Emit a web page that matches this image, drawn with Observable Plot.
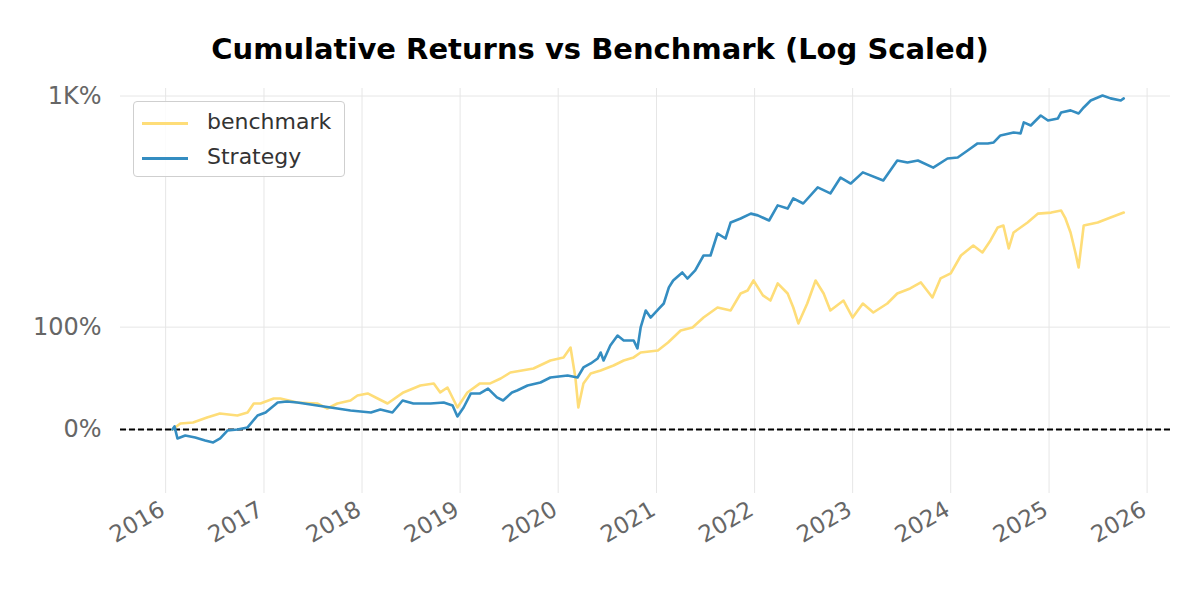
<!DOCTYPE html>
<html><head><meta charset="utf-8">
<script src="https://cdn.jsdelivr.net/npm/d3@7"></script>
<script src="https://cdn.jsdelivr.net/npm/@observablehq/plot@0.6"></script>
<style>
body{margin:0;background:#fff;font-family:"DejaVu Sans",sans-serif;}
#wrap{position:relative;width:1200px;height:600px;overflow:hidden;}
#title{height:46px;padding-top:34px;line-height:30px;text-align:center;font-weight:bold;font-size:29px;color:#000;}
#legend{position:absolute;left:133px;top:101px;width:210px;padding:2px 0;border:1px solid #cfcfcf;border-radius:4px;background:rgba(255,255,255,0.85);}
#legend .item{height:35px;line-height:35px;font-size:22px;color:#333;white-space:nowrap;}
#legend .sw{display:inline-block;width:46px;height:3px;margin-left:8px;margin-right:19px;vertical-align:middle;}
</style></head><body>
<div id="wrap"><div id="title">Cumulative Returns vs Benchmark (Log Scaled)</div><div id="chart"></div><div id="legend"></div></div>
<script>
const seriesNames = ["benchmark", "Strategy"];
const seriesColors = ["#fedd78", "#348dc1"];

const strategyDates = ["2016-01-26","2016-02-03","2016-02-14","2016-03-14","2016-04-20","2016-05-27","2016-06-26","2016-07-22","2016-08-18","2016-09-24","2016-11-01","2016-12-08","2017-01-07","2017-02-21","2017-03-28","2017-05-05","2017-07-18","2017-10-01","2017-11-19","2018-02-03","2018-03-10","2018-04-24","2018-06-01","2018-07-11","2018-09-13","2018-11-01","2018-12-04","2018-12-22","2019-01-14","2019-02-10","2019-03-16","2019-04-15","2019-05-18","2019-06-10","2019-07-13","2019-08-01","2019-09-09","2019-10-27","2019-12-03","2020-02-05","2020-03-13","2020-04-04","2020-05-01","2020-05-27","2020-06-07","2020-06-18","2020-07-13","2020-08-09","2020-09-01","2020-10-08","2020-10-22","2020-11-03","2020-11-22","2020-12-10","2021-01-10","2021-01-28","2021-02-16","2021-03-04","2021-04-07","2021-04-26","2021-05-25","2021-06-25","2021-07-21","2021-08-16","2021-09-15","2021-10-04","2021-11-10","2021-12-18","2022-01-13","2022-02-24","2022-03-28","2022-05-04","2022-05-25","2022-07-01","2022-08-24","2022-10-10","2022-11-17","2022-12-25","2023-02-08","2023-04-25","2023-05-21","2023-06-16","2023-07-24","2023-09-01","2023-10-28","2023-12-20","2024-01-27","2024-03-04","2024-04-10","2024-05-18","2024-06-09","2024-07-04","2024-08-22","2024-09-17","2024-09-29","2024-10-25","2024-12-01","2024-12-28","2025-02-03","2025-02-15","2025-03-22","2025-04-21","2025-05-10","2025-06-05","2025-07-19","2025-08-18","2025-09-25","2025-10-06"];
const strategyValues = [0,0.03,-0.088,-0.059,-0.078,-0.107,-0.127,-0.088,-0.01,0,0.02,0.137,0.166,0.264,0.274,0.264,0.235,0.205,0.186,0.166,0.195,0.166,0.283,0.254,0.254,0.264,0.235,0.127,0.215,0.352,0.352,0.40,0.313,0.283,0.362,0.381,0.43,0.459,0.508,0.528,0.508,0.606,0.645,0.694,0.752,0.674,0.821,0.918,0.87,0.87,0.792,0.997,1.163,1.094,1.182,1.231,1.388,1.456,1.534,1.475,1.554,1.70,1.70,1.915,1.866,2.06,2.165,2.30,2.25,2.11,2.55,2.45,2.78,2.61,3.19,2.96,3.61,3.35,3.85,3.48,3.94,4.47,4.36,4.47,4.09,4.58,4.64,5.06,5.53,5.53,5.60,6.11,6.34,6.27,7.19,6.92,7.84,7.37,7.56,8.15,8.36,8.04,8.67,9.46,10.07,9.71,9.46,9.71];

const benchmarkDates = ["2016-01-26","2016-02-25","2016-04-12","2016-06-03","2016-07-21","2016-09-24","2016-11-01","2016-11-24","2016-12-19","2017-02-06","2017-03-03","2017-05-05","2017-07-18","2017-08-25","2017-10-01","2017-11-19","2017-12-15","2018-01-22","2018-02-28","2018-04-06","2018-06-04","2018-08-06","2018-09-25","2018-10-19","2018-11-15","2018-12-22","2019-01-28","2019-03-16","2019-04-23","2019-06-01","2019-07-07","2019-10-01","2019-12-03","2020-01-21","2020-02-16","2020-03-05","2020-03-16","2020-04-04","2020-05-01","2020-06-07","2020-07-25","2020-09-01","2020-10-08","2020-11-03","2021-01-06","2021-02-13","2021-04-01","2021-05-15","2021-06-25","2021-08-16","2021-10-04","2021-11-10","2021-12-06","2021-12-28","2022-02-01","2022-03-01","2022-03-28","2022-05-04","2022-05-25","2022-06-13","2022-07-16","2022-08-16","2022-09-15","2022-10-10","2022-11-28","2023-01-01","2023-02-08","2023-03-19","2023-05-10","2023-06-16","2023-08-03","2023-09-12","2023-10-25","2023-11-24","2024-01-01","2024-02-08","2024-03-25","2024-04-28","2024-05-28","2024-06-24","2024-07-15","2024-08-04","2024-08-22","2024-10-13","2024-11-21","2025-01-09","2025-02-15","2025-03-03","2025-03-22","2025-04-09","2025-04-21","2025-05-10","2025-07-01","2025-08-18","2025-10-06"];
const benchmarkValues = [0,0.059,0.068,0.117,0.156,0.137,0.166,0.254,0.254,0.303,0.303,0.264,0.254,0.205,0.254,0.283,0.332,0.352,0.303,0.254,0.362,0.43,0.45,0.362,0.41,0.215,0.362,0.45,0.45,0.498,0.557,0.596,0.674,0.704,0.801,0.508,0.215,0.45,0.547,0.577,0.625,0.674,0.704,0.752,0.772,0.85,0.967,0.997,1.094,1.192,1.163,1.329,1.358,1.456,1.31,1.26,1.427,1.329,1.192,1.036,1.231,1.456,1.329,1.163,1.26,1.094,1.231,1.143,1.231,1.329,1.378,1.437,1.29,1.476,1.525,1.70,1.798,1.73,1.847,1.974,1.993,1.769,1.925,2.06,2.30,2.33,2.39,2.165,1.925,1.73,1.583,1.993,2.06,2.19,2.33];

const yTickValues = [0, 1, 10];
const yTickLabels = ["0%", "100%", "1K%"];
const xTickYears = [2016,2017,2018,2019,2020,2021,2022,2023,2024,2025,2026];

// matplotlib-style symlog (linthresh 2, linscale 1, base 10)
function symlog(v){
  const c = 2, s = 1 / (1 - 1 / 10), a = Math.abs(v);
  return a <= c ? v * s : Math.sign(v) * c * (s + Math.log10(a / c));
}

const rows = [];
benchmarkDates.forEach((d, i) => rows.push({date: new Date(d), value: benchmarkValues[i], series: seriesNames[0]}));
strategyDates.forEach((d, i) => rows.push({date: new Date(d), value: strategyValues[i], series: seriesNames[1]}));

const yTicksT = yTickValues.map(symlog);
const xTicks = xTickYears.map(y => new Date(Date.UTC(y, 0, 1)));

const chart = Plot.plot({
  width: 1200,
  height: 520,
  marginTop: 8,
  marginBottom: 107,
  marginLeft: 120,
  marginRight: 30,
  style: {fontFamily: "DejaVu Sans, sans-serif", background: "#fff"},
  x: {type: "utc", domain: [new Date("2015-07-17"), new Date("2026-03-29")]},
  y: {type: "linear", domain: [-0.695, 3.702]},
  color: {domain: seriesNames, range: seriesColors},
  marks: [
    Plot.gridX(xTicks, {stroke: "#e6e6e6", strokeOpacity: 1, strokeWidth: 1}),
    Plot.gridY(yTicksT, {stroke: "#e6e6e6", strokeOpacity: 1, strokeWidth: 1}),
    Plot.ruleY([0], {y: d => symlog(d), stroke: "#000", strokeWidth: 2, strokeDasharray: "6,3"}),
    Plot.line(rows.filter(r => r.series === seriesNames[0]), {x: "date", y: d => symlog(d.value), stroke: "series", strokeWidth: 2.6}),
    Plot.line(rows.filter(r => r.series === seriesNames[1]), {x: "date", y: d => symlog(d.value), stroke: "series", strokeWidth: 2.6}),
    Plot.axisY(yTicksT, {tickSize: 0, tickPadding: 19, fontSize: 24, fill: "#666", label: null,
      tickFormat: d => yTickLabels[yTicksT.findIndex(t => Math.abs(t - d) < 1e-9)]}),
    Plot.axisX(xTicks, {tickSize: 0, tickPadding: 14, tickRotate: -30, fontSize: 23, fill: "#666", label: null, dx: -3,
      tickFormat: d => String(d.getUTCFullYear())})
  ]
});
document.getElementById("chart").appendChild(chart);

const legend = document.getElementById("legend");
seriesNames.forEach((name, i) => {
  const item = document.createElement("div");
  item.className = "item";
  const sw = document.createElement("span");
  sw.className = "sw";
  sw.style.background = seriesColors[i];
  item.appendChild(sw);
  item.appendChild(document.createTextNode(name));
  legend.appendChild(item);
});
</script>
</body></html>
